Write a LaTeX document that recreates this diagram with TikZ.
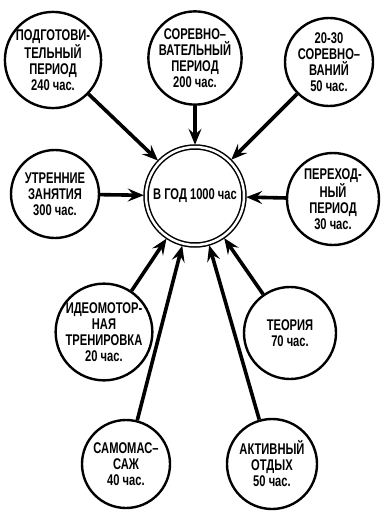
\documentclass[tikz,border=0pt]{standalone}
\usepackage{fontspec}
\setmainfont{Liberation Sans}[FakeStretch=0.72]
\usetikzlibrary{arrows.meta}
\tikzset{
	kreis/.style={draw, circle, line width=2.4pt, inner sep=0pt, align=center,
		font=\bfseries\fontsize{15.5}{16}\selectfont},
	mitte/.style={kreis, line width=1.5pt, double, double distance=2.5pt},
	pfeil/.style={line width=3.6pt, shorten >=1.5pt,
		-{Stealth[length=16pt,width=13pt,inset=6pt]}}
}
\begin{document}
\begin{tikzpicture}[x=1pt,y=-1pt]
	\useasboundingbox (0,0) rectangle (381,511);
%Mitte
	\node (jahr) at (195,196) [mitte, minimum size=98pt] {В ГОД 1000 час};
%obere Reihe
	\node (podg) at (53,60) [kreis, minimum size=84pt]
		{ПОДГОТОВИ-\\ТЕЛЬНЫЙ\\ПЕРИОД\\240 час.};
	\node (wett) at (195,58) [kreis, minimum size=86pt]
		{СОРЕВНО–\\ВАТЕЛЬНЫЙ\\ПЕРИОД\\200 час.};
	\node (start) at (329,62) [kreis, minimum size=88pt]
		{20-30\\СОРЕВНО–\\ВАНИЙ\\50 час.};
%mittlere Reihe
	\node (morgen) at (55,194) [kreis, minimum size=88pt]
		{УТРЕННИЕ\\ЗАНЯТИЯ\\300 час.};
	\node (ueber) at (333,199) [kreis, minimum size=92pt]
		{ПЕРЕХОД-\\НЫЙ\\ПЕРИОД\\30 час.};
%untere Reihe
	\node (ideo) at (104,332) [kreis, minimum size=88pt]
		{ИДЕОМОТОР-\\НАЯ\\ТРЕНИРОВКА\\20 час.};
	\node (theorie) at (290,333) [kreis, minimum size=92pt]
		{ТЕОРИЯ\\70 час.};
	\node (massage) at (126,464) [kreis, minimum size=88pt]
		{САМОМАС–\\САЖ\\40 час.};
	\node (erhol) at (272,464) [kreis, minimum size=90pt]
		{АКТИВНЫЙ\\ОТДЫХ\\50 час.};
%Pfeile
	\foreach \k in {podg,wett,start,morgen,ueber,ideo,theorie,massage,erhol}{
		\draw[pfeil] (\k) -- (jahr);}
\end{tikzpicture}
\end{document}
